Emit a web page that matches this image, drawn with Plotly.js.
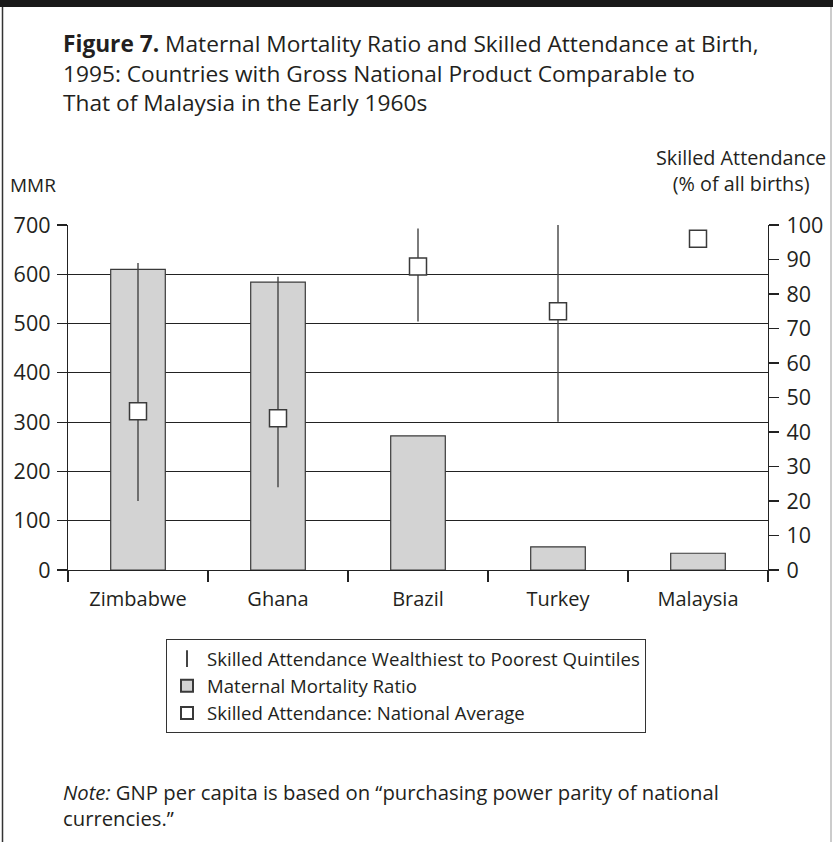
<!DOCTYPE html>
<html>
<head>
<meta charset="utf-8">
<script src="https://cdn.plot.ly/plotly-3.0.1.min.js"></script>
<style>
  html, body { margin: 0; padding: 0; background: #fff; }
  #chart { width: 833px; height: 842px; }
</style>
</head>
<body>
<div id="chart"></div>
<script>
// ---- Data ----
const countries = ['Zimbabwe', 'Ghana', 'Brazil', 'Turkey', 'Malaysia'];
const mmr = [610, 584, 272, 47, 34];                 // Maternal Mortality Ratio (left axis)
const skilledAvg = [46, 44, 88, 75, 96];             // Skilled attendance, national average (%)
const skilledWealthiest = [89, 85, 99, 100, null];   // wealthiest quintile (%)
const skilledPoorest = [20, 24, 72, 43, null];       // poorest quintile (%)
const leftTicks = [0, 100, 200, 300, 400, 500, 600, 700];
const rightTicks = [0, 10, 20, 30, 40, 50, 60, 70, 80, 90, 100];

const FONT = '"Open Sans", "Noto Sans", sans-serif';
const TXT = '#231f20';

const errPlus = skilledWealthiest.map((v, i) => v == null ? null : v - skilledAvg[i]);
const errMinus = skilledPoorest.map((v, i) => v == null ? null : skilledAvg[i] - v);

const traces = [
  {
    type: 'scatter', mode: 'markers', x: countries, y: skilledAvg, yaxis: 'y2',
    name: 'Skilled Attendance Wealthiest to Poorest Quintiles',
    legendrank: 1,
    marker: { symbol: 'line-ns-open', size: 10, color: '#444', line: { color: '#444', width: 1 } },
    error_y: { type: 'data', symmetric: false, array: errPlus, arrayminus: errMinus,
               width: 0, thickness: 1.4, color: '#444' },
    hoverinfo: 'skip'
  },
  {
    type: 'bar', x: countries, y: mmr, yaxis: 'y',
    name: 'Maternal Mortality Ratio',
    legendrank: 2,
    width: 0.39,
    marker: { color: '#d3d3d3', line: { color: '#3a3a3a', width: 1.2 } },
    hoverinfo: 'skip'
  },
  {
    type: 'scatter', mode: 'markers', x: countries, y: skilledAvg, yaxis: 'y2',
    name: 'Skilled Attendance: National Average',
    legendrank: 3,
    marker: { symbol: 'square', size: 17, color: '#ffffff', line: { color: '#3a3a3a', width: 1.5 } },
    hoverinfo: 'skip'
  }
];

// helpers to convert pixel positions to paper coords
const L = 68, R = 768, T = 225, B = 570;
const px = x => (x - L) / (R - L);
const py = y => (B - y) / (B - T);

const layout = {
  width: 833, height: 842,
  margin: { l: L, r: 833 - R, t: T, b: 842 - B, pad: 0 },
  paper_bgcolor: '#fff', plot_bgcolor: '#fff',
  font: { family: FONT, color: TXT, size: 19 },
  showlegend: true,
  xaxis: {
    type: 'category', range: [-0.5, 4.5],
    showline: true, linecolor: '#222', linewidth: 1.2,
    ticks: 'outside', tickson: 'boundaries', ticklen: 11, tickcolor: '#222', tickwidth: 1.2,
    tickfont: { family: FONT, size: 20, color: TXT },
    ticklabelstandoff: 11,
    showgrid: false, zeroline: false, fixedrange: true
  },
  yaxis: {
    range: [0, 700], tickvals: leftTicks, ticktext: leftTicks.map(String),
    showline: true, linecolor: '#222', linewidth: 1.2,
    ticks: 'outside', ticklen: 10, tickcolor: '#222', tickwidth: 1.2,
    tickfont: { family: FONT, size: 21.5, color: TXT },
    ticklabelstandoff: 2,
    showgrid: true, gridcolor: '#222', gridwidth: 1.2,
    zeroline: false, fixedrange: true
  },
  yaxis2: {
    range: [0, 100], overlaying: 'y', side: 'right',
    tickvals: rightTicks, ticktext: rightTicks.map(String),
    showline: true, linecolor: '#222', linewidth: 1.2,
    ticks: 'outside', ticklen: 10, tickcolor: '#222', tickwidth: 1.2,
    tickfont: { family: FONT, size: 21.5, color: TXT },
    ticklabelstandoff: 3,
    showgrid: false, zeroline: false, fixedrange: true
  },
  legend: {
    x: px(166), y: py(639), xanchor: 'left', yanchor: 'top',
    bordercolor: '#333', borderwidth: 1, bgcolor: '#fff',
    font: { family: FONT, size: 18.6, color: TXT },
    traceorder: 'normal', itemsizing: 'constant', tracegroupgap: 0
  },
  shapes: [
    { type: 'rect', xref: 'paper', yref: 'paper', x0: px(-5), x1: px(840), y0: py(0), y1: py(7),
      fillcolor: '#1a1a1a', line: { width: 0 }, layer: 'above' },
    { type: 'line', xref: 'paper', yref: 'paper', x0: px(2.5), x1: px(2.5), y0: py(7), y1: py(842),
      line: { color: '#333', width: 1.5 } },
    { type: 'line', xref: 'paper', yref: 'paper', x0: px(831), x1: px(831), y0: py(7), y1: py(842),
      line: { color: '#999', width: 1 } }
  ],
  annotations: [
    { xref: 'paper', yref: 'paper', x: px(61), y: py(26), xanchor: 'left', yanchor: 'top',
      align: 'left', showarrow: false,
      font: { family: FONT, size: 22.7, color: TXT },
      text: '<b>Figure 7.</b> Maternal Mortality Ratio and Skilled Attendance at Birth,<br>1995: Countries with Gross National Product Comparable to<br>That of Malaysia in the Early 1960s' },
    { xref: 'paper', yref: 'paper', x: px(8), y: py(185), xanchor: 'left', yanchor: 'middle',
      showarrow: false, font: { family: FONT, size: 19, color: TXT }, text: 'MMR' },
    { xref: 'paper', yref: 'paper', x: px(741), y: py(170), xanchor: 'center', yanchor: 'middle',
      align: 'center', showarrow: false, font: { family: FONT, size: 19.8, color: TXT },
      text: 'Skilled Attendance<br>(% of all births)' },
    { xref: 'paper', yref: 'paper', x: px(61), y: py(776), xanchor: 'left', yanchor: 'top',
      align: 'left', showarrow: false, font: { family: FONT, size: 20.3, color: TXT },
      text: '<i>Note:</i> GNP per capita is based on “purchasing power parity of national<br>currencies.”' }
  ]
};

Plotly.newPlot('chart', traces, layout, { staticPlot: true, displayModeBar: false });
</script>
</body>
</html>
